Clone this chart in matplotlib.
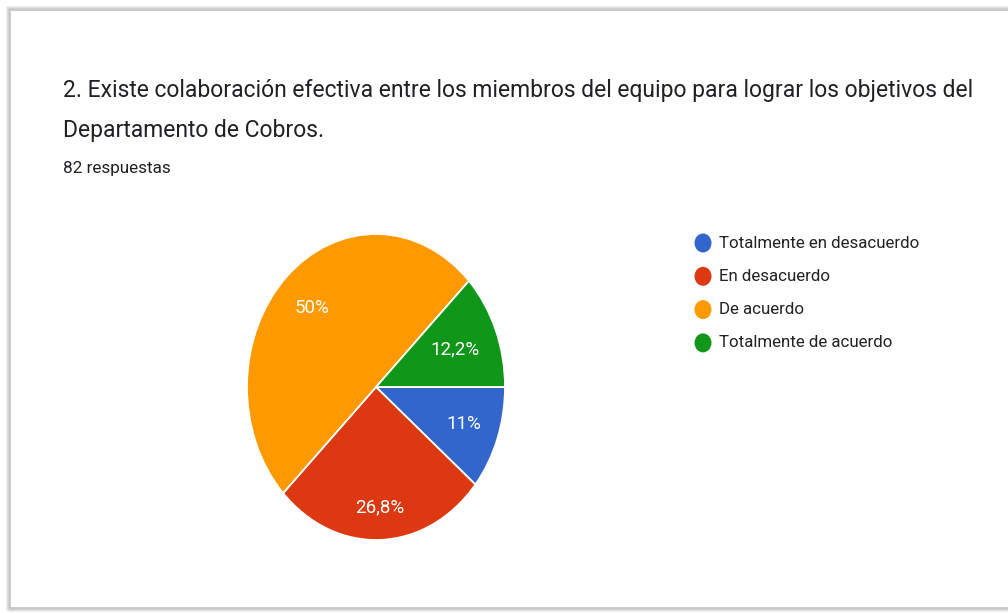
import numpy as np
import matplotlib.pyplot as plt
from matplotlib.patches import Rectangle, Ellipse

# survey answers
categories = ['Totalmente en desacuerdo', 'En desacuerdo', 'De acuerdo', 'Totalmente de acuerdo']
counts = [9, 22, 41, 10]
percents = [11.0, 26.8, 50.0, 12.2]
colors = ['#3366cc', '#dc3912', '#ff9900', '#109618']
# how far out each percent label sits (fraction of the radius)
label_dist = [0.72, 0.79, 0.72, 0.66]

title_lines = ['2. Existe colaboración efectiva entre los miembros del equipo para lograr los objetivos del',
               'Departamento de Cobros.']
subtitle = f'{sum(counts)} respuestas'

plt.rcParams['font.family'] = ['Roboto', 'DejaVu Sans']

W, H = 1008, 613
fig = plt.figure(figsize=(W / 100, H / 100), dpi=100)
fig.patch.set_facecolor('white')

# card outline with a soft shadow
for off, col in [(3, '#eeeeee'), (2, '#dddddd'), (1, '#cfcfcf'), (0, '#c4c4c4')]:
    fig.patches.append(Rectangle(((10 - off) / W, (H - 608 - off) / H),
                                 (W + 20) / W, (598 + 2 * off) / H,
                                 transform=fig.transFigure, fill=False,
                                 edgecolor=col, linewidth=1.2, zorder=0))


def fmt(p):
    s = f'{p:.1f}'.replace('.', ',')
    return s[:-2] + '%' if s.endswith(',0') else s + '%'


cx, cy, rx, ry = 376, 387, 129, 153
ax = fig.add_axes([(cx - rx) / W, 1 - (cy + ry) / H, 2 * rx / W, 2 * ry / H])
wedges, _ = ax.pie(percents, colors=colors, startangle=0, counterclock=False,
                   radius=1, wedgeprops=dict(edgecolor='white', linewidth=1.3))
for w, p, d in zip(wedges, percents, label_dist):
    ang = np.deg2rad((w.theta1 + w.theta2) / 2)
    ax.text(d * np.cos(ang), d * np.sin(ang), fmt(p), color='white', fontsize=13.5,
            ha='center', va='center')
ax.set_xlim(-1, 1)
ax.set_ylim(-1, 1)
ax.set_aspect('auto')
ax.axis('off')

fig.text(63 / W, 1 - 91 / H, title_lines[0], fontsize=16.5, color='#202124',
         va='center', ha='left')
fig.text(63 / W, 1 - 130 / H, title_lines[1], fontsize=16.5, color='#202124',
         va='center', ha='left')
fig.text(63 / W, 1 - 168 / H, subtitle, fontsize=12.3, color='#202124',
         va='center', ha='left')

# legend
for i, (lab, col) in enumerate(zip(categories, colors)):
    y = 243 + i * 33.3
    fig.patches.append(Ellipse((703 / W, 1 - y / H), 17 / W, 19 / H,
                               transform=fig.transFigure,
                               facecolor=col, edgecolor='none'))
    fig.text(719 / W, 1 - y / H, lab, fontsize=12.2, color='#222222', va='center', ha='left')

fig.savefig('out.png', dpi=100, facecolor='white')
